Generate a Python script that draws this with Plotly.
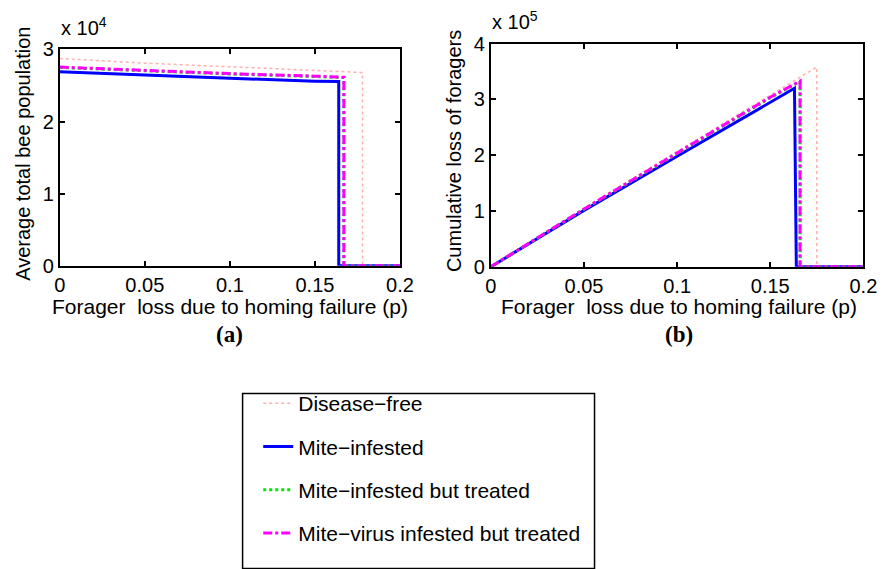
import plotly.graph_objects as go

# ---------------- data ----------------
series_names = ["Disease\u2212free", "Mite\u2212infested", "Mite\u2212infested but treated",
                "Mite\u2212virus infested but treated"]

# panel (a): average total bee population vs p
pa_free = [0, 0.05, 0.1, 0.15, 0.178, 0.178, 0.2]
va_free = [28750, 28100, 27600, 27100, 26800, 0, 0]
pa_mite = [0, 0.05, 0.1, 0.15, 0.164, 0.164, 0.2]
va_mite = [26900, 26400, 26000, 25600, 25550, 0, 0]
pa_treat = [0, 0.05, 0.1, 0.15, 0.167, 0.167, 0.2]
va_treat = [27500, 27000, 26600, 26250, 26100, 0, 0]
pa_virus = [0, 0.05, 0.1, 0.15, 0.167, 0.167, 0.2]
va_virus = [27550, 27050, 26650, 26300, 26150, 0, 0]

# panel (b): cumulative loss of foragers vs p
pb_free = [0, 0.05, 0.1, 0.15, 0.175, 0.175, 0.2]
vb_free = [0, 105000, 207000, 308000, 358000, 0, 0]
pb_mite = [0, 0.05, 0.1, 0.15, 0.163, 0.164, 0.2]
vb_mite = [0, 101000, 198000, 295000, 320000, 0, 0]
pb_treat = [0, 0.05, 0.1, 0.15, 0.166, 0.166, 0.2]
vb_treat = [0, 103000, 203000, 303000, 332000, 0, 0]
pb_virus = [0, 0.05, 0.1, 0.15, 0.166, 0.166, 0.2]
vb_virus = [0, 103500, 204000, 304000, 333000, 0, 0]

x_ticks = [0, 0.05, 0.1, 0.15, 0.2]
x_ticktext = ["0", "0.05", "0.1", "0.15", "0.2"]
ya_ticks = [0, 10000, 20000, 30000]
ya_ticktext = ["0", "1", "2", "3"]
yb_ticks = [0, 100000, 200000, 300000, 400000]
yb_ticktext = ["0", "1", "2", "3", "4"]

# ---------------- styles ----------------
W, H = 894, 569
FONT = "Liberation Sans, Arial, Helvetica, sans-serif"
SERIF = "Liberation Serif, Times New Roman, serif"
FS_TICK = 20
FS_TITLE = 21
FS_YTITLE = 20
FS_LEG = 21
styles = [
    dict(color="rgb(255,175,175)", width=1.5, dash="dot"),
    dict(color="rgb(0,0,255)", width=3, dash="solid"),
    dict(color="rgb(0,230,0)", width=3, dash="dot"),
    dict(color="rgb(255,0,255)", width=3, dash="dashdot"),
]

fig = go.Figure()
panel_a = [(pa_free, va_free), (pa_mite, va_mite), (pa_treat, va_treat), (pa_virus, va_virus)]
panel_b = [(pb_free, vb_free), (pb_mite, vb_mite), (pb_treat, vb_treat), (pb_virus, vb_virus)]

for i, (px, py) in enumerate(panel_a):
    fig.add_trace(go.Scatter(x=px, y=py, mode="lines", name=series_names[i],
                             line=styles[i], xaxis="x", yaxis="y",
                             legendgroup=str(i), showlegend=True))
for i, (px, py) in enumerate(panel_b):
    fig.add_trace(go.Scatter(x=px, y=py, mode="lines", name=series_names[i],
                             line=styles[i], xaxis="x2", yaxis="y2",
                             legendgroup=str(i), showlegend=False))

def fx(px):
    return px / W

def fy(py):
    return 1 - py / H

axis_common = dict(showline=True, linecolor="black", linewidth=2, mirror="ticks",
                   ticks="inside", ticklen=5, tickwidth=1.5, tickcolor="black",
                   showgrid=False, zeroline=False,
                   tickfont=dict(family=FONT, size=FS_TICK, color="black"))

fig.update_layout(
    width=W, height=H,
    margin=dict(l=0, r=0, t=0, b=0),
    paper_bgcolor="white", plot_bgcolor="white",
    font=dict(family=FONT, size=FS_TICK, color="black"),
    xaxis=dict(domain=[fx(55), fx(403)], range=[0, 0.2], tickvals=x_ticks, ticktext=x_ticktext,
               anchor="y", **axis_common),
    yaxis=dict(domain=[fy(265), fy(40)], range=[0, 30000], tickvals=ya_ticks, ticktext=ya_ticktext,
               anchor="x", **axis_common),
    xaxis2=dict(domain=[fx(496), fx(877)], range=[0, 0.2], tickvals=x_ticks, ticktext=x_ticktext,
                anchor="y2", **axis_common),
    yaxis2=dict(domain=[fy(266), fy(34)], range=[0, 400000], tickvals=yb_ticks, ticktext=yb_ticktext,
                anchor="x2", **axis_common),
    showlegend=True,
    legend=dict(x=fx(258), y=fy(387), xanchor="left", yanchor="top",
                bgcolor="rgba(0,0,0,0)", borderwidth=0,
                font=dict(family=FONT, size=FS_LEG, color="black"),
                tracegroupgap=13, itemwidth=30),
)

# axis titles and labels as annotations
ann = [
    dict(x=fx(229), y=fy(307), text="Forager\u00a0 loss due to homing failure (p)",
         font=dict(family=FONT, size=FS_TITLE, color="black")),
    dict(x=fx(688), y=fy(307), text="Forager\u00a0 loss due to homing failure (p)",
         font=dict(family=FONT, size=FS_TITLE, color="black")),
    dict(x=fx(229), y=fy(336), text="<b>(a)</b>", font=dict(family=SERIF, size=23, color="black")),
    dict(x=fx(688), y=fy(336), text="<b>(b)</b>", font=dict(family=SERIF, size=23, color="black")),
    dict(x=fx(18), y=fy(149), text="Average total bee population", textangle=-90,
         font=dict(family=FONT, size=FS_YTITLE, color="black")),
    dict(x=fx(459), y=fy(146), text="Cumulative loss of foragers", textangle=-90,
         font=dict(family=FONT, size=FS_YTITLE, color="black")),
    dict(x=fx(54), y=fy(16), text="x 10<sup>4</sup>", xanchor="left"),
    dict(x=fx(495), y=fy(10), text="x 10<sup>5</sup>", xanchor="left"),
]
for a in ann:
    a.setdefault("font", dict(family=FONT, size=FS_TICK, color="black"))
    a.setdefault("xanchor", "center")
    fig.add_annotation(xref="paper", yref="paper", showarrow=False, yanchor="middle", **a)

# legend box
fig.add_shape(type="rect", xref="paper", yref="paper",
              x0=fx(242), x1=fx(602), y0=fy(580), y1=fy(398),
              line=dict(color="black", width=1.5), fillcolor="rgba(0,0,0,0)")

fig.write_html("out.html")
